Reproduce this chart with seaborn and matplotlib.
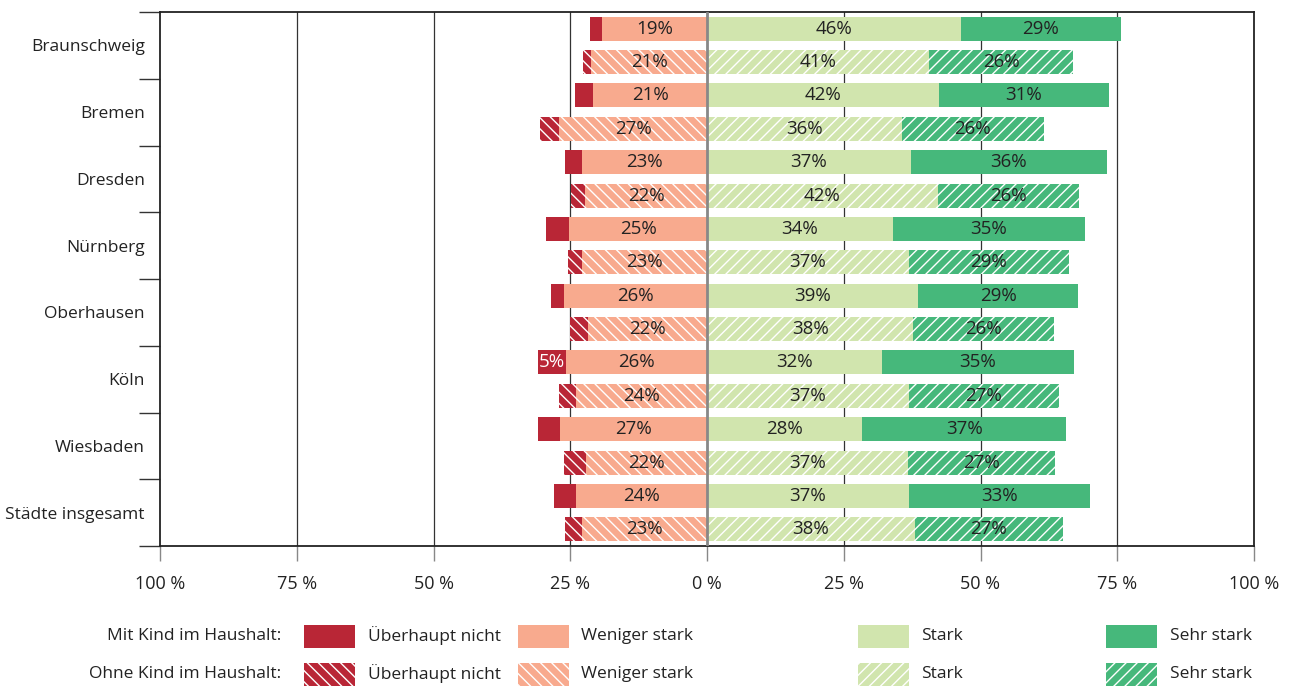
import matplotlib
matplotlib.use("Agg")
import matplotlib.pyplot as plt
import seaborn as sns
import numpy as np
from matplotlib.patches import Rectangle

cities = ["Braunschweig", "Bremen", "Dresden", "Nürnberg", "Oberhausen",
          "Köln", "Wiesbaden", "Städte insgesamt"]

mit_ueberhaupt = [2.2, 3.3, 3.1, 4.2, 2.4, 5.1, 4.0, 4.0]
mit_weniger = [19.2, 20.8, 22.9, 25.2, 26.1, 25.8, 26.9, 24.0]
mit_stark = [46.4, 42.4, 37.3, 34.0, 38.6, 32.0, 28.3, 36.9]
mit_sehr = [29.3, 31.1, 35.8, 35.1, 29.3, 35.1, 37.4, 33.1]

ohne_ueberhaupt = [1.5, 3.5, 2.6, 2.6, 3.3, 3.1, 4.0, 3.1]
ohne_weniger = [21.2, 27.0, 22.3, 22.9, 21.8, 24.0, 22.1, 22.9]
ohne_stark = [40.6, 35.6, 42.2, 36.9, 37.7, 36.9, 36.7, 38.0]
ohne_sehr = [26.4, 26.0, 25.8, 29.3, 25.8, 27.4, 27.0, 27.0]

x_ticks = [-100, -75, -50, -25, 0, 25, 50, 75, 100]
x_ticklabels = ["100 %", "75 %", "50 %", "25 %", "0 %", "25 %", "50 %", "75 %", "100 %"]

legend_rows = ["Mit Kind im Haushalt:", "Ohne Kind im Haushalt:"]
legend_cats = ["Überhaupt nicht", "Weniger stark", "Stark", "Sehr stark"]

sns.set_theme(style="white")
plt.rcParams["font.family"] = ["Open Sans", "DejaVu Sans"]
plt.rcParams["hatch.linewidth"] = 1.0

C_RED = "#B92636"
C_SALMON = "#F8AA8E"
C_LGREEN = "#D1E5AE"
C_GREEN = "#46B87B"
TXT = "#222222"
H_NEG = "\\\\\\"
H_POS = "///"

fig = plt.figure(figsize=(12.9, 6.86), dpi=100)
ax = fig.add_axes([160 / 1290, 1 - 546 / 686, (1254 - 160) / 1290, (546 - 12) / 686])

n = len(cities)
y = np.arange(n)
h = 0.36
fs = 13.5

def draw_group(ypos, ue, we, st, se, hatch_neg, hatch_pos):
    ue = np.array(ue); we = np.array(we); st = np.array(st); se = np.array(se)
    kw_neg = dict(height=h, edgecolor="white", linewidth=0, hatch=hatch_neg, zorder=3)
    kw_pos = dict(height=h, edgecolor="white", linewidth=0, hatch=hatch_pos, zorder=3)
    ax.barh(ypos, -we, left=0, color=C_SALMON, **kw_neg)
    ax.barh(ypos, -ue, left=-we, color=C_RED, **kw_neg)
    ax.barh(ypos, st, left=0, color=C_LGREEN, **kw_pos)
    ax.barh(ypos, se, left=st, color=C_GREEN, **kw_pos)
    for i in range(n):
        yy = ypos[i]
        ax.text(-we[i] / 2, yy, f"{round(we[i])}%", ha="center", va="center",
                fontsize=fs, color=TXT, zorder=5)
        if ue[i] >= 5:
            ax.text(-we[i] - ue[i] / 2, yy, f"{round(ue[i])}%", ha="center",
                    va="center", fontsize=fs, color="white", zorder=5)
        ax.text(st[i] / 2, yy, f"{round(st[i])}%", ha="center", va="center",
                fontsize=fs, color=TXT, zorder=5)
        ax.text(st[i] + se[i] / 2, yy, f"{round(se[i])}%", ha="center", va="center",
                fontsize=fs, color=TXT, zorder=5)

draw_group(y - 0.25, mit_ueberhaupt, mit_weniger, mit_stark, mit_sehr, None, None)
draw_group(y + 0.25, ohne_ueberhaupt, ohne_weniger, ohne_stark, ohne_sehr, H_NEG, H_POS)

ax.set_xlim(-100, 100)
ax.set_ylim(n - 0.5, -0.5)

for gx in [-75, -50, -25, 25, 50, 75]:
    ax.axvline(gx, color="#333333", lw=0.9, zorder=1)
ax.axvline(0, color="#888888", lw=2, zorder=4)

ax.set_xticks(x_ticks)
ax.set_xticklabels(x_ticklabels, fontsize=13, color=TXT)
ax.tick_params(axis="x", which="major", length=11, width=1, color="#888888",
               direction="out", pad=10, bottom=True)

ax.set_yticks(y)
ax.set_yticklabels(cities, fontsize=12.5, color=TXT)
ax.tick_params(axis="y", which="major", length=0, pad=11)
ax.set_yticks(np.arange(n + 1) - 0.5, minor=True)
ax.tick_params(axis="y", which="minor", length=15, width=1, color="#333333",
               direction="out", left=True)

for s in ax.spines.values():
    s.set_visible(True)
    s.set_color("#222222")
    s.set_linewidth(1.3)

# Legend (bottom)
W = 1290.0
H = 686.0
patch_x = [304, 518, 858, 1106]
text_x = [368, 581, 921, 1170]
row_y = [636, 674]
colors = [C_RED, C_SALMON, C_LGREEN, C_GREEN]
hatches_row = [[None] * 4, [H_NEG, H_NEG, H_POS, H_POS]]
for r in range(2):
    fig.text(281 / W, 1 - row_y[r] / H, legend_rows[r], ha="right", va="center",
             fontsize=12.5, color=TXT)
    for k in range(4):
        rect = Rectangle((patch_x[k] / W, 1 - (row_y[r] + 11.5) / H), 51 / W, 23 / H,
                         transform=fig.transFigure, facecolor=colors[k],
                         edgecolor="white", linewidth=0, hatch=hatches_row[r][k])
        fig.patches.append(rect)
        fig.text(text_x[k] / W, 1 - row_y[r] / H, legend_cats[k], ha="left",
                 va="center", fontsize=12.5, color=TXT)

fig.savefig("out.png", dpi=100)
